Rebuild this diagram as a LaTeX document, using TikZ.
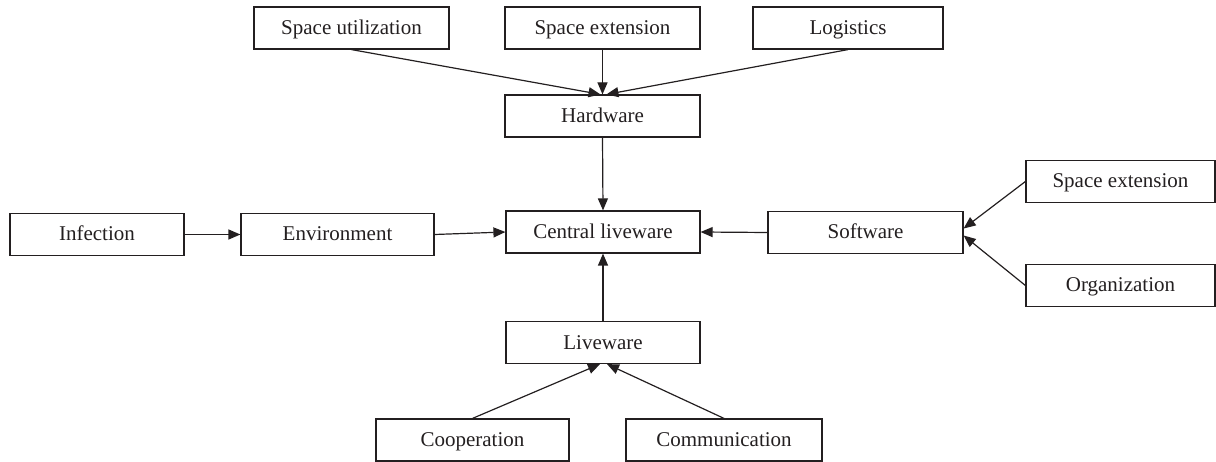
\documentclass[tikz,border=0pt]{standalone}
\usepackage{fontspec}
\setmainfont{Liberation Serif}
\usetikzlibrary{arrows.meta}
\definecolor{ink}{HTML}{231F20}
\begin{document}
\begin{tikzpicture}[x=1pt,y=-1pt,
  box/.style={draw=ink,line width=1.2pt,rectangle,minimum width=195pt,minimum height=42pt,inner sep=0pt,text height=15pt,text depth=2pt,text=ink,font=\fontsize{21}{24}\selectfont},
  conn/.style={draw=ink,line width=1.2pt,-{Triangle[length=12pt,width=10pt]}}]
\useasboundingbox (0,0) rectangle (1216,462);
\node[box] (su) at (351.5,28) {Space utilization};
\node[box] (se1) at (602.5,28) {Space extension};
\node[box,minimum width=190pt] (lo) at (848,28) {Logistics};
\node[box] (hw) at (602.5,116) {Hardware};
\node[box,minimum width=174pt] (inf) at (97,234.5) {Infection};
\node[box,minimum width=193pt] (env) at (337.5,234.5) {Environment};
\node[box,minimum width=194pt] (cl) at (603,232) {Central liveware};
\node[box] (sw) at (865.5,232.5) {Software};
\node[box,minimum width=189pt] (se2) at (1120.5,181.5) {Space extension};
\node[box,minimum width=189pt] (org) at (1120.5,285.5) {Organization};
\node[box,minimum width=194pt] (lv) at (603,342.5) {Liveware};
\node[box,minimum width=193pt] (coop) at (472.5,440) {Cooperation};
\node[box,minimum width=196pt] (comm) at (724,440) {Communication};
\draw[conn] (su.south) -- ([xshift=-2pt]hw.north);
\draw[conn] (se1.south) -- (hw.north);
\draw[conn] (lo.south) -- ([xshift=4pt]hw.north);
\draw[conn] (hw.south) -- (cl.north);
\draw[conn] (inf.east) -- (env.west);
\draw[conn] (env.east) -- (cl.west);
\draw[conn] (sw.west) -- (cl.east);
\draw[conn] (lv.north) -- (cl.south);
\draw[conn] (se2.west) -- ([yshift=4pt]sw.east);
\draw[conn] (org.west) -- ([yshift=-3pt]sw.east);
\draw[conn] (coop.north) -- ([xshift=-3pt]lv.south);
\draw[conn] (comm.north) -- ([xshift=4pt]lv.south);
\end{tikzpicture}
\end{document}
